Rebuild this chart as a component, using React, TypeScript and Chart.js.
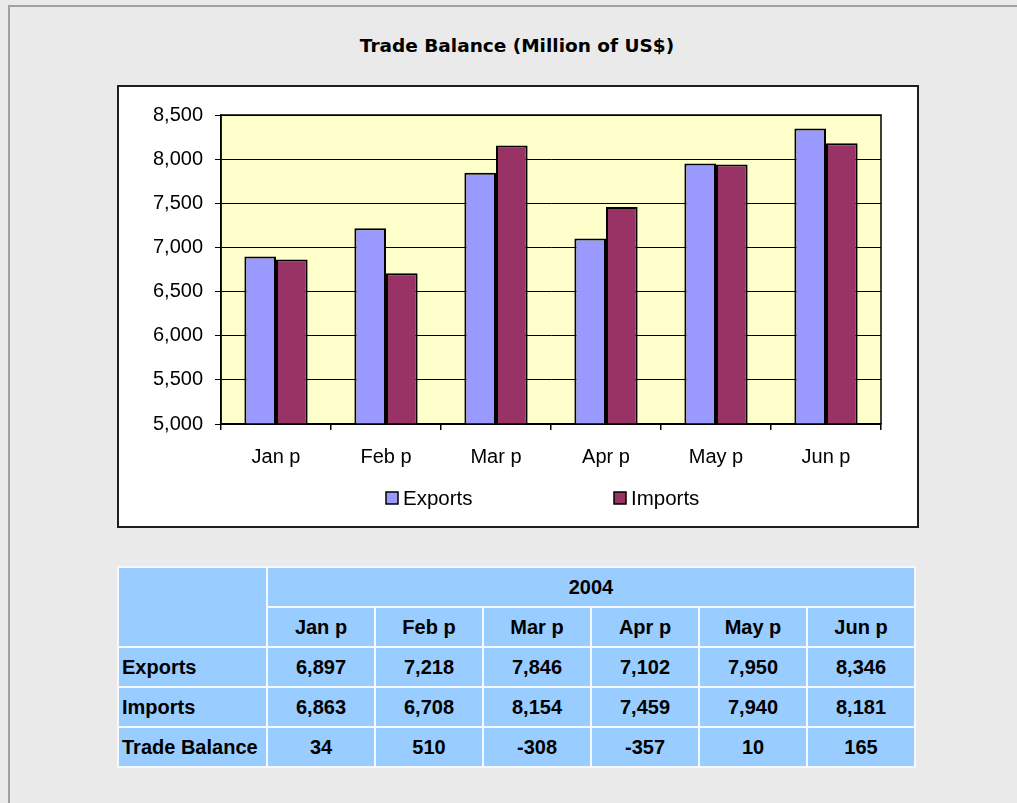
import React, { useEffect, useRef } from 'react';
import { Chart, registerables } from 'chart.js';

Chart.register(...registerables);

const categories = ['Jan p', 'Feb p', 'Mar p', 'Apr p', 'May p', 'Jun p'];
const exportsValues = [6897, 7218, 7846, 7102, 7950, 8346];
const importsValues = [6863, 6708, 8154, 7459, 7940, 8181];
const balanceValues = [34, 510, -308, -357, 10, 165];
const seriesNames = ['Exports', 'Imports', 'Trade Balance'];
const yearLabel = '2004';
const titleText = 'Trade Balance (Million of US$)';
const yMin = 5000;
const yMax = 8500;
const yStep = 500;

const EXPORT_COLOR = '#9999FF';
const IMPORT_COLOR = '#993366';
const AXIS_FONT = { family: '"Liberation Sans", Arial, sans-serif', size: 20 };

const fmt = (v: number) => v.toLocaleString('en-US');

const plotPlugin = {
  id: 'plotDecor',
  beforeDraw(chart: any) {
    const { ctx, chartArea: a } = chart;
    ctx.save();
    ctx.fillStyle = '#FFFFCC';
    ctx.fillRect(a.left, a.top, a.right - a.left, a.bottom - a.top);
    ctx.restore();
  },
  afterDraw(chart: any) {
    const { ctx, chartArea: a } = chart;
    ctx.save();
    ctx.strokeStyle = '#000';
    ctx.lineWidth = 1.5;
    ctx.strokeRect(a.left, a.top, a.right - a.left, a.bottom - a.top);
    // legend
    const items = chart.data.datasets.map((d: any) => ({ label: d.label, color: d.backgroundColor }));
    const offsets = [164, 392];
    const cy = a.bottom + 74;
    ctx.font = '20.5px "Liberation Sans", Arial, sans-serif';
    ctx.textBaseline = 'middle';
    ctx.textAlign = 'left';
    items.forEach((it: any, i: number) => {
      const x = a.left + offsets[i];
      ctx.fillStyle = it.color;
      ctx.fillRect(x + 1, cy - 6, 12, 12);
      ctx.lineWidth = 1.5;
      ctx.strokeStyle = '#000';
      ctx.strokeRect(x + 1, cy - 6, 12, 12);
      ctx.fillStyle = '#000';
      ctx.fillText(it.label, x + 18, cy + 1);
    });
    ctx.restore();
  },
};

function TradeChart() {
  const ref = useRef<HTMLCanvasElement | null>(null);
  useEffect(() => {
    if (!ref.current) return;
    const chart = new Chart(ref.current, {
      type: 'bar',
      data: {
        labels: categories,
        datasets: [
          {
            label: seriesNames[0],
            data: exportsValues,
            backgroundColor: EXPORT_COLOR,
            borderColor: '#000',
            borderWidth: 2,
            borderSkipped: false,
            categoryPercentage: 0.575,
            barPercentage: 1,
          },
          {
            label: seriesNames[1],
            data: importsValues,
            backgroundColor: IMPORT_COLOR,
            borderColor: '#000',
            borderWidth: 2,
            borderSkipped: false,
            categoryPercentage: 0.575,
            barPercentage: 1,
          },
        ],
      },
      options: {
        animation: false,
        responsive: false,
        devicePixelRatio: 1,
        layout: { padding: { top: 28, right: 36, left: 0, bottom: 0 } },
        plugins: {
          legend: { display: false },
          title: { display: false },
          tooltip: { enabled: false },
        },
        scales: {
          x: {
            grid: {
              offset: true,
              drawOnChartArea: false,
              drawTicks: true,
              tickLength: 6,
              color: '#000',
              lineWidth: 1.5,
            },
            border: { display: true, color: '#000', width: 1.5 },
            ticks: { color: '#000', font: AXIS_FONT, padding: 15, maxRotation: 0 },
            afterFit: (s: any) => {
              s.height = 102;
            },
          },
          y: {
            min: yMin,
            max: yMax,
            grid: { color: '#000', lineWidth: 1, tickLength: 6 },
            border: { display: true, color: '#000', width: 1.5 },
            ticks: {
              stepSize: yStep,
              color: '#000',
              font: AXIS_FONT,
              padding: 12,
              callback: (v: any) => fmt(Number(v)),
            },
            afterFit: (s: any) => {
              s.width = 102;
            },
          },
        },
      },
      plugins: [plotPlugin],
    });
    return () => chart.destroy();
  }, []);
  return <canvas ref={ref} width={798} height={439} style={{ display: 'block', width: 798, height: 439 }} />;
}

function DataTable() {
  const cell: React.CSSProperties = {
    background: '#99CCFF',
    display: 'flex',
    alignItems: 'center',
    justifyContent: 'center',
    font: 'bold 20px "Liberation Sans", Arial, sans-serif',
    color: '#000',
  };
  const rowLabel: React.CSSProperties = { ...cell, justifyContent: 'flex-start', paddingLeft: 3 };
  const rows = [
    { name: seriesNames[0], values: exportsValues },
    { name: seriesNames[1], values: importsValues },
    { name: seriesNames[2], values: balanceValues },
  ];
  return (
    <div
      style={{
        position: 'absolute',
        left: 117,
        top: 566,
        background: '#F4F9FF',
        padding: 2,
        display: 'grid',
        gridTemplateColumns: '147px repeat(6, 106px)',
        gridTemplateRows: 'repeat(5, 38px)',
        gap: 2,
      }}
    >
      <div style={{ ...cell, gridColumn: '1', gridRow: '1 / span 2' }} />
      <div style={{ ...cell, gridColumn: '2 / span 6', gridRow: '1' }}>{yearLabel}</div>
      {categories.map((c, i) => (
        <div key={c} style={{ ...cell, gridColumn: String(i + 2), gridRow: '2' }}>
          {c}
        </div>
      ))}
      {rows.map((r, ri) => (
        <React.Fragment key={r.name}>
          <div style={{ ...rowLabel, gridColumn: '1', gridRow: String(ri + 3) }}>{r.name}</div>
          {r.values.map((v, i) => (
            <div key={i} style={{ ...cell, gridColumn: String(i + 2), gridRow: String(ri + 3) }}>
              {fmt(v)}
            </div>
          ))}
        </React.Fragment>
      ))}
    </div>
  );
}

export default function App() {
  return (
    <div style={{ position: 'fixed', left: 0, top: 0, width: 1017, height: 803, background: '#EAEAEA', overflow: 'hidden' }}>
      <div
        style={{
          position: 'absolute',
          left: 8,
          top: 5,
          width: 1100,
          height: 900,
          borderLeft: '2px solid #A0A0A0',
          borderTop: '2px solid #A0A0A0',
        }}
      />
      <div
        style={{
          position: 'absolute',
          left: 117,
          top: 31,
          width: 800,
          textAlign: 'center',
          font: 'bold 18.5px "DejaVu Sans", sans-serif',
          lineHeight: '30px',
          color: '#000',
        }}
      >
        {titleText}
      </div>
      <div
        style={{
          position: 'absolute',
          left: 117,
          top: 85,
          width: 798,
          height: 439,
          border: '2px solid #1E1E1E',
          background: '#FFFFFF',
        }}
      >
        <TradeChart />
      </div>
      <DataTable />
    </div>
  );
}
